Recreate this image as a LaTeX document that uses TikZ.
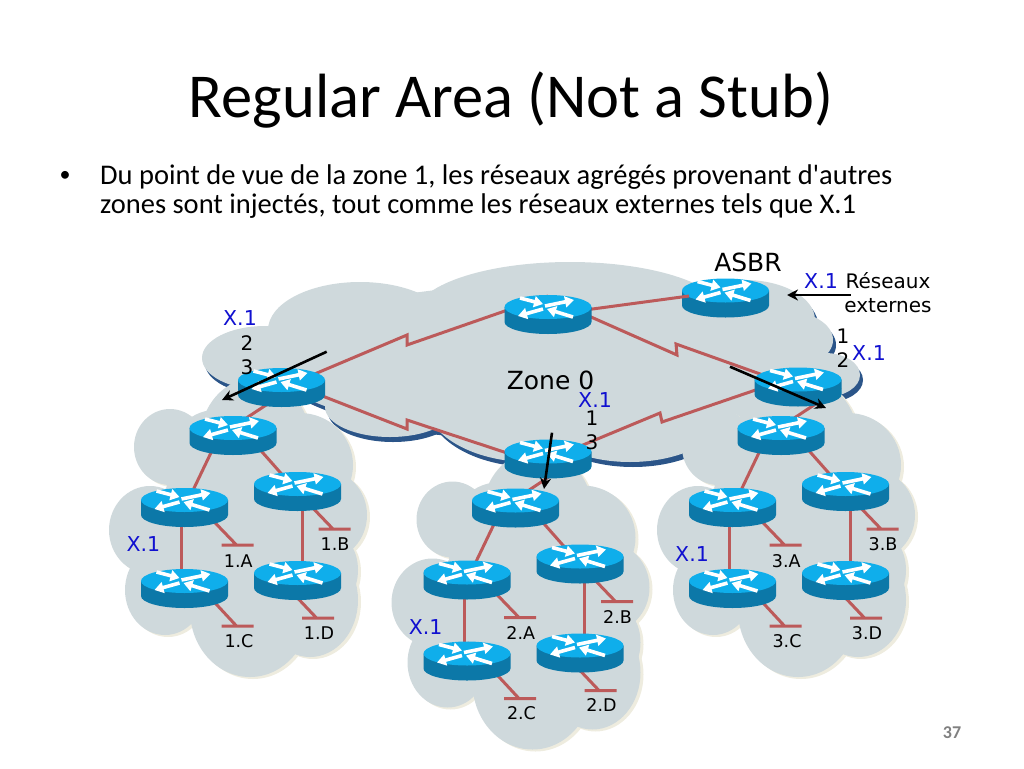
\documentclass[tikz,border=0pt]{standalone}
\usepackage{fontspec}
\usepackage{color}
\newfontfamily\slidefont{Carlito}
\newfontfamily\labelfont{DejaVu Sans}
\usetikzlibrary{arrows.meta}

\definecolor{cloudgray}{HTML}{CFD9DC}
\definecolor{cloudedge}{HTML}{EEECDF}
\definecolor{zoneblue}{HTML}{2B5589}
\definecolor{linkred}{HTML}{BC5A5A}
\definecolor{routertop}{HTML}{0FAEEB}
\definecolor{routerside}{HTML}{0C78A8}
\definecolor{labelblue}{HTML}{1010D0}

\tikzset{
	routerpt/.style={inner sep=0pt,minimum size=0pt},
	linkline/.style={draw=linkred,line width=3pt,line join=miter},
	blackarrow/.style={draw=black,line width=2.6pt,-{Stealth[length=11pt,width=11pt]}},
	whitearrow/.style={draw=white,line width=3.6pt,-{Triangle[length=9pt,width=11pt]}},
	bluelabel/.style={font=\labelfont\fontsize{20.5}{20.5}\selectfont,text=labelblue,inner sep=0pt},
	blacklabel/.style={font=\labelfont\fontsize{20}{24}\selectfont,align=center,inner sep=0pt},
	biglabel/.style={font=\labelfont\fontsize{25}{25}\selectfont,inner sep=0pt},
	netlabel/.style={font=\labelfont\fontsize{17.5}{17.5}\selectfont,inner sep=0pt},
	pics/router/.style={code={
		\fill[routerside] (-43.5,7) arc[start angle=180,end angle=0,x radius=43.5,y radius=12] -- (43.5,-8) -- (-43.5,-8) -- cycle;
		\fill[routertop] (0,-8) ellipse[x radius=43.5,y radius=12];
		\draw[whitearrow] (-28,-17) -- (-5,-11);
		\draw[whitearrow] (-3,-9) -- (26,-15);
		\draw[whitearrow] (-5,-6) -- (-30,1);
		\draw[whitearrow] (25,2) -- (-1,-6);
	}},
}

\begin{document}
\begin{tikzpicture}[x=1pt,y=-1pt]
			\useasboundingbox (0,0) rectangle (1024,768);
			% title and text
			\node[font=\slidefont\fontsize{62.5}{62.5}\selectfont] (title) at (511,100) {Regular Area (Not a Stub)};
			\node[font=\slidefont\fontsize{22}{22}\selectfont] (bullet) at (65,176) {•};
			\node[font=\slidefont\fontsize{28.5}{29}\selectfont,align=left,anchor=west,inner sep=0pt] (body) at (100,192)
				{Du point de vue de la zone 1, les réseaux agrégés provenant d'autres\\zones sont injectés, tout comme les réseaux externes tels que X.1};
			\node[font=\slidefont\bfseries\fontsize{18}{18}\selectfont,text=gray] (pagenum) at (952,733) {37};
			% zone 0 cloud
			\foreach \col/\sx/\sy in {zoneblue/3/5,cloudgray/0/0}
			{
				\begin{scope}[shift={(\sx,\sy)}]
					\foreach \ex/\ey/\erx/\ery in {570/315/155/53,360/330/92/48,265/358/63/32,745/320/70/40,785/340/48/29,825/375/35/22,390/407/65/30,530/400/105/62,630/405/100/57,700/400/100/50,530/360/260/75}
						\fill[\col] (\ex,\ey) ellipse[x radius=\erx,y radius=\ery];
				\end{scope}
			}
			% area clouds
			\foreach \ar/\dx/\dy in {1/0/0,2/282.5/72.5,3/548/0}
			{
				\foreach \col/\sx/\sy in {cloudedge/3/2,cloudgray/0/0}
				{
					\begin{scope}[shift={(\dx+\sx,\dy+\sy)}]
						\foreach \ex/\ey/\erx/\ery in {170/447/36/38,215/470/50/60,255/440/55/62,300/465/53/52,150/530/41/44,165/590/40/45,250/610/60/67,310/600/48/57,335/570/23/35,325/515/42/45,250/530/95/90}
							\fill[\col] (\ex,\ey) ellipse[x radius=\erx,y radius=\ery];
					\end{scope}
				}
			}
			% routers
			\node[routerpt] (core) at (548,315) {};
			\node[routerpt] (asbr) at (725.5,298.5) {};
			\node[routerpt] (abr1) at (281.5,388) {};
			\node[routerpt] (abr2) at (548,459.5) {};
			\node[routerpt] (abr3) at (798,387.5) {};
			\foreach \ar/\dx/\dy in {1/0/0,2/282.5/72.5,3/548/0}
			{
				\begin{scope}[shift={(\dx,\dy)}]
					\node[routerpt] (r\ar t) at (233,436) {};
					\node[routerpt] (r\ar a) at (184.5,508) {};
					\node[routerpt] (r\ar b) at (297.5,492) {};
					\node[routerpt] (r\ar c) at (184.5,589) {};
					\node[routerpt] (r\ar d) at (297.5,581) {};
					\node[netlabel] (n\ar a) at (238.3,560.7) {\ar.A};
					\node[netlabel] (n\ar b) at (335,544) {\ar.B};
					\node[netlabel] (n\ar c) at (239,640.7) {\ar.C};
					\node[netlabel] (n\ar d) at (319,632.7) {\ar.D};
				\end{scope}
			}
			% backbone links
			\draw[linkline] (abr1) -- (407,335) -- (407,345) -- ([yshift=19pt]core.center);
			\draw[linkline] ([yshift=8pt]abr1.center) -- (407,429) -- (407,420) -- ([yshift=-7pt]abr2.center);
			\draw[linkline] ([yshift=17pt]core.center) -- (677,355) -- (676,344) -- (abr3);
			\draw[linkline] ([yshift=12pt]abr3.center) -- (662,422) -- (660,413) -- (abr2);
			% links inside the areas
			\foreach \ar/\ux in {1/10.5,2/27,3/42.5}
			{
				\draw[linkline] ([xshift=\ux pt]abr\ar.center) -- ([xshift=-14pt]r\ar t.center);
				\draw[linkline] ([xshift=-14pt]r\ar t.center) -- (r\ar a);
				\draw[linkline] ([xshift=15pt]r\ar t.center) -- (r\ar b);
				\draw[linkline] ([xshift=-3pt]r\ar a.center) -- ([xshift=-3pt]r\ar c.center);
				\draw[linkline] ([xshift=4.5pt]r\ar b.center) -- ([xshift=4.5pt]r\ar d.center);
				\draw[linkline] ([yshift=17pt]r\ar a.center) -- ++(52,54) ++(-15,0) -- ++(32,0);
				\draw[linkline] (r\ar b) -- ++(35.5,37) ++(-14.5,0) -- ++(32,0);
				\draw[linkline] ([yshift=19pt]r\ar c.center) -- ++(52,56) ++(-15,0) -- ++(32,0);
				\draw[linkline] ([xshift=-16pt]r\ar d.center) -- ++(35,37) ++(-14.5,0) -- ++(32,0);
			}
			% the link to the asbr stays on top of its router
			\pic at (asbr) {router};
			\coordinate (asbrport) at (689,296);
			\draw[linkline] (core) -- (asbrport);
			\foreach \rt in {core,abr1,abr2,abr3,r1t,r1a,r1b,r1c,r1d,r2t,r2a,r2b,r2c,r2d,r3t,r3a,r3b,r3c,r3d}
				\pic at (\rt) {router};
			% texts
			\node[biglabel] (asbrtext) at (748,262) {ASBR};
			\node[biglabel] (zonetext) at (550.5,380) {Zone 0};
			\node[blacklabel] (exttext) at (888,293) {Réseaux\\externes};
			\node[bluelabel] (x1) at (240,318) {X.1};
			\node[bluelabel] (x2) at (821,281) {X.1};
			\node[bluelabel] (x3) at (869,353) {X.1};
			\node[bluelabel] (x4) at (595,400) {X.1};
			\node[bluelabel] (x5) at (143.3,544) {X.1};
			\node[bluelabel] (x6) at (425.7,626.7) {X.1};
			\node[bluelabel] (x7) at (692,554) {X.1};
			\node[blacklabel] (cost1) at (247,355.5) {2\\3};
			\node[blacklabel] (cost2) at (843,348) {1\\2};
			\node[blacklabel] (cost3) at (592,430.5) {1\\3};
			% black arrows
			\coordinate (wfrom) at (326.7,351.7);
			\coordinate (wto) at (222,400);
			\coordinate (efrom) at (730,366.7);
			\coordinate (eto) at (826,408);
			\coordinate (sfrom) at (552,432.7);
			\coordinate (sto) at (544,489);
			\coordinate (xfrom) at (850.7,295);
			\coordinate (xto) at (787,295);
			\draw[blackarrow] (wfrom) -- (wto);
			\draw[blackarrow] (efrom) -- (eto);
			\draw[blackarrow] (sfrom) -- (sto);
			\draw[blackarrow] (xfrom) -- (xto);
		\end{tikzpicture}
\end{document}
